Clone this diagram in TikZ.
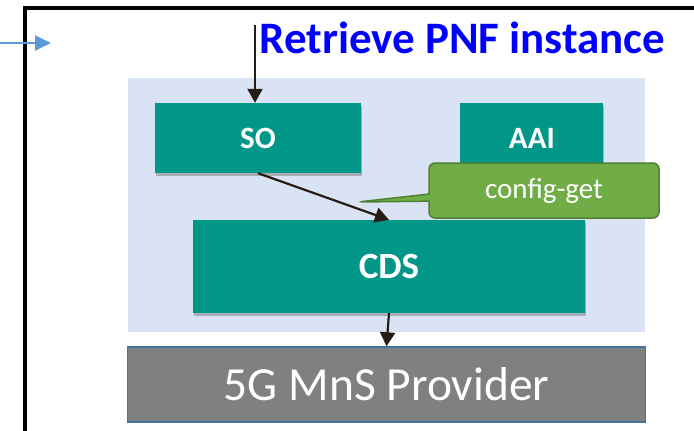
\documentclass[tikz,border=0pt]{standalone}
\usepackage{fontspec}
\setmainfont{Carlito}
\usetikzlibrary{positioning, arrows.meta, shapes.callouts, shadows}

\definecolor{onapteal}{HTML}{009688}
\definecolor{paneblue}{HTML}{DAE3F3}
\definecolor{tipgreen}{HTML}{70AD47}
\definecolor{tipedge}{HTML}{507E32}
\definecolor{provgray}{HTML}{808080}
\definecolor{provedge}{HTML}{41719C}
\definecolor{flowdark}{HTML}{261C14}
\definecolor{feedblue}{HTML}{5B9BD5}

\tikzset{
  comp/.style={fill=onapteal, text=white, inner sep=0pt,
    font=\fontsize{31}{37}\selectfont\bfseries,
    drop shadow={shadow xshift=1pt, shadow yshift=-3pt, opacity=.35, fill=black!70}},
  flow/.style={draw=flowdark, line width=2.2pt,
    -{Triangle[length=14pt, width=15pt]}}
}

\begin{document}
\begin{tikzpicture}[x=1pt, y=-1pt]
\useasboundingbox (0,0) rectangle (694,431);
\clip (0,0) rectangle (694,431);
% outer frame, cut off at the right and bottom
\draw[line width=3.5pt] (25,8) rectangle (720,460);
\node[fill=paneblue, inner sep=0pt, minimum width=517pt, minimum height=254pt]
    (pane) at (386.5,205) {};
\node[anchor=base west, text=blue, font=\fontsize{45}{52}\selectfont\bfseries]
    (title) at (256,53) {Retrieve PNF instance};
\node[comp, minimum width=206pt, minimum height=70pt] (so) at (258,138) {SO};
\node[comp, minimum width=143pt, minimum height=70pt, right=99pt of so] (aai) {AAI};
\node[comp, minimum width=392pt, minimum height=93pt,
    font=\fontsize{37}{44}\selectfont\bfseries] (cds) at (389,266.5) {CDS};
\node[draw=provedge, line width=1.5pt, fill=provgray, text=white, inner sep=0pt,
    minimum width=518pt, minimum height=75pt,
    font=\fontsize{47.5}{56}\selectfont] (mns) at (386.5,384.5) {5G MnS Provider};
\node[rectangle callout, callout absolute pointer={(358,202)},
    rounded corners=6pt, draw=tipedge, line width=1.5pt, fill=tipgreen,
    text=white, inner sep=0pt, minimum width=230pt, minimum height=55pt,
    font=\fontsize{29}{35}\selectfont] (cfg) at (544,190.5) {config-get};

\coordinate (req) at (255,25);
\coordinate (ext) at (0,43);
\coordinate (entry) at (51,43);
\draw[flow] (req) -- (req |- so.north);
\draw[flow] (so.south) -- (cds.north);
\draw[flow] (cds.south) -- (mns.north);
\draw[draw=feedblue, line width=2pt, -{Triangle[length=16pt, width=15pt]}]
    (ext) -- (entry);
\end{tikzpicture}
\end{document}
